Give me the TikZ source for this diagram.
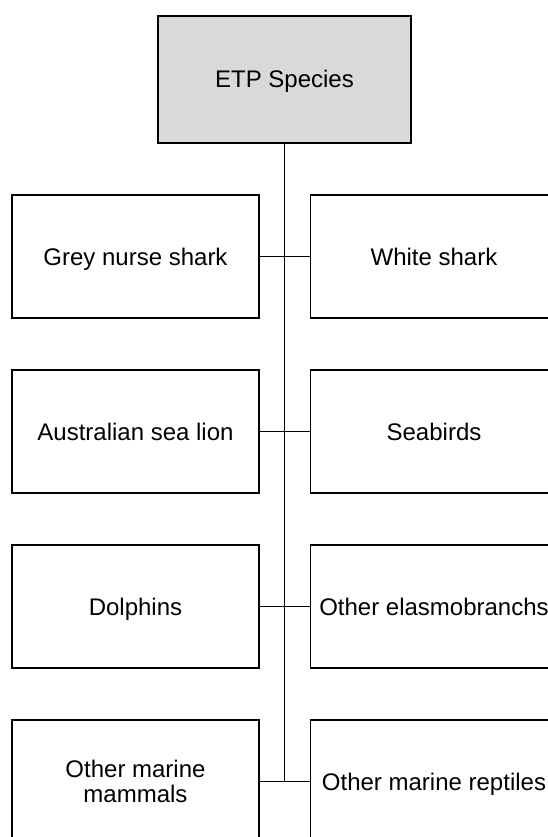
\documentclass[tikz,border=0pt]{standalone}
\usepackage{fontspec}
\setmainfont{Liberation Sans}
\definecolor{topgrey}{HTML}{D9D9D9}
\tikzset{
  orgbox/.style = {rectangle, draw=black, line width=1.6pt, align=center,
    inner sep=0pt, font=\fontsize{24}{25}\selectfont,
    text height=17pt, text depth=0pt,
    minimum width=247pt, minimum height=123pt},% species box
  orgtwo/.style = {orgbox, text height=, text depth=},% two lines of text
  orgtop/.style = {orgbox, fill=topgrey, minimum width=253pt,
    minimum height=127pt},% root box, grey
  orgline/.style = {draw=black, line width=1.6pt}% trunk and branches
}

\begin{document}
\begin{tikzpicture}[x=1pt,y=-1pt]

	\useasboundingbox (0,0) rectangle (548,837);

	\node [orgtop] (etp) at (284.5,79.5) {ETP Species};

	\node [orgbox] (gns) at (135.5,256.5) {Grey nurse shark};
	\node [orgbox] (ws)  at (434,256.5)   {White shark};
	\node [orgbox] (asl) at (135.5,431.5) {Australian sea lion};
	\node [orgbox] (sb)  at (434,431.5)   {Seabirds};
	\node [orgbox] (dol) at (135.5,606.5) {Dolphins};
	\node [orgbox] (oel) at (434,606.5)   {Other elasmobranchs};
	\node [orgtwo] (omm) at (135.5,781.5) {Other marine\\mammals};
	\node [orgbox] (omr) at (434,781.5)   {Other marine reptiles};

	\coordinate (trunkend) at (284.5,781.5);

	\draw [orgline] (etp.south) -- (trunkend);
	\draw [orgline] (gns.east) -- (ws.west);
	\draw [orgline] (asl.east) -- (sb.west);
	\draw [orgline] (dol.east) -- (oel.west);
	\draw [orgline] (omm.east) -- (omr.west);

\end{tikzpicture}
\end{document}
